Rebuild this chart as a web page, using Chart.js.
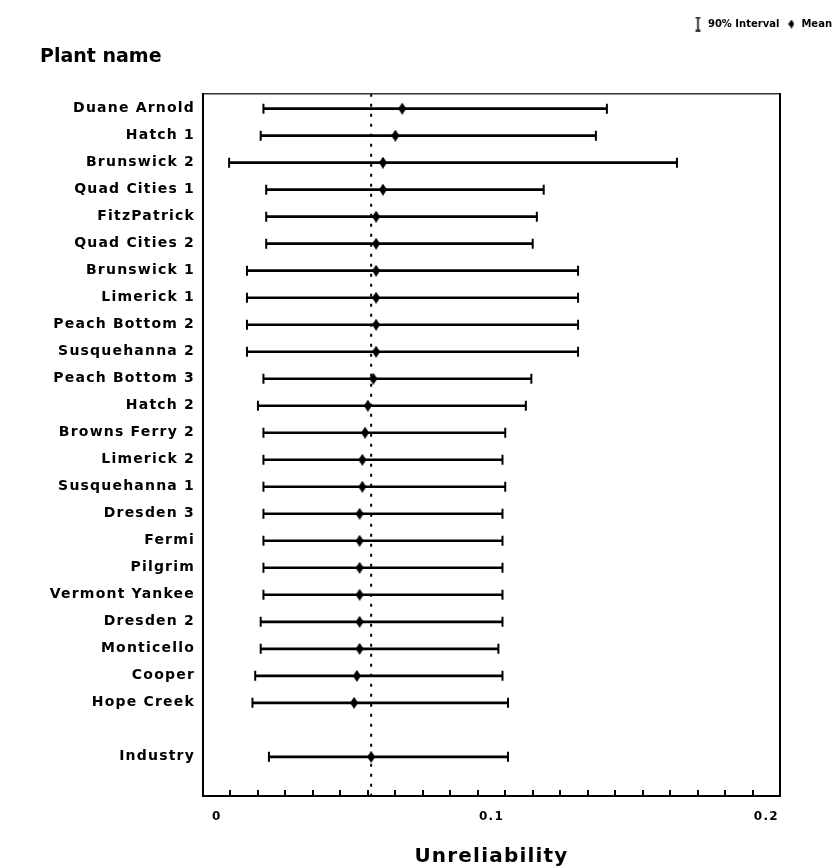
<!DOCTYPE html>
<html>
<head>
<meta charset="utf-8">
<script src="https://cdn.jsdelivr.net/npm/chart.js@4.4.1/dist/chart.umd.min.js"></script>
<style>
  html, body { margin: 0; padding: 0; background: #fff; }
  #divGrafico { width: 839px; height: 868px; }
</style>
</head>
<body>
<div id="divGrafico"><canvas id="grafico"></canvas></div>
<script>
// plants, top to bottom
const plants = ['Duane Arnold', 'Hatch 1', 'Brunswick 2', 'Quad Cities 1', 'FitzPatrick', 'Quad Cities 2',
  'Brunswick 1', 'Limerick 1', 'Peach Bottom 2', 'Susquehanna 2', 'Peach Bottom 3', 'Hatch 2',
  'Browns Ferry 2', 'Limerick 2', 'Susquehanna 1', 'Dresden 3', 'Fermi', 'Pilgrim', 'Vermont Yankee',
  'Dresden 2', 'Monticello', 'Cooper', 'Hope Creek'];
const lower = [0.017, 0.016, 0.0045, 0.018, 0.018, 0.018, 0.011, 0.011, 0.011, 0.011, 0.017, 0.015,
  0.017, 0.017, 0.017, 0.017, 0.017, 0.017, 0.017, 0.016, 0.016, 0.014, 0.013];
const means = [0.0675, 0.065, 0.0605, 0.0605, 0.058, 0.058, 0.058, 0.058, 0.058, 0.058, 0.057, 0.055,
  0.054, 0.053, 0.053, 0.052, 0.052, 0.052, 0.052, 0.052, 0.052, 0.051, 0.050];
const upper = [0.142, 0.138, 0.1675, 0.119, 0.1165, 0.115, 0.1315, 0.1315, 0.1315, 0.1315, 0.1145, 0.1125,
  0.105, 0.104, 0.105, 0.104, 0.104, 0.104, 0.104, 0.104, 0.1025, 0.104, 0.106];

const industryName = 'Industry';
const industryLower = 0.019;
const industryMean = 0.0562;
const industryUpper = 0.106;

const xTickLabels = ['0', '0.1', '0.2'];

// one empty row between plants and industry
const rowNames = plants.concat([industryName]);
const rowPos = plants.map((p, i) => i).concat([plants.length + 1]);
const allLower = lower.concat([industryLower]);
const allMeans = means.concat([industryMean]);
const allUpper = upper.concat([industryUpper]);

const yMin = -0.55;
const yMax = rowPos[rowPos.length - 1] + 1.45;

function diamond(w, h) {
  const c = document.createElement('canvas');
  c.width = w; c.height = h;
  const g = c.getContext('2d');
  g.fillStyle = '#000';
  g.beginPath();
  g.moveTo(w / 2, 0); g.lineTo(w, h / 2); g.lineTo(w / 2, h); g.lineTo(0, h / 2);
  g.closePath();
  g.fill();
  return c;
}

function iBeam(w, h) {
  const c = document.createElement('canvas');
  c.width = w; c.height = h;
  const g = c.getContext('2d');
  g.strokeStyle = '#000';
  g.lineWidth = 1.5;
  g.beginPath();
  g.moveTo(w / 2, 1); g.lineTo(w / 2, h - 1);
  g.moveTo(1, 1); g.lineTo(w - 1, 1);
  g.moveTo(1, h - 1); g.lineTo(w - 1, h - 1);
  g.stroke();
  return c;
}

const meanMark = diamond(8, 12);

// wide lettering for the axes, plain for legend and title
const spacingPlugin = {
  id: 'spacing',
  beforeLayout(chart) { chart.ctx.letterSpacing = '0px'; },
  beforeDraw(chart) { chart.ctx.letterSpacing = '0px'; },
  afterDatasetsDraw(chart) { chart.ctx.letterSpacing = '1.2px'; }
};

const fontFam = "'DejaVu Sans', sans-serif";

const data = {
  datasets: [
    {
      type: 'bar',
      label: '90% Interval',
      indexAxis: 'y',
      data: rowPos.map((r, i) => ({ y: r, x: [allLower[i], allUpper[i]] })),
      backgroundColor: '#000',
      barThickness: 2,
      borderWidth: 0
    },
    {
      type: 'scatter',
      label: 'caps',
      data: rowPos.map((r, i) => ({ x: allLower[i], y: r })).concat(rowPos.map((r, i) => ({ x: allUpper[i], y: r }))),
      pointStyle: 'line',
      rotation: 90,
      radius: 5,
      borderWidth: 2,
      borderColor: '#000'
    },
    {
      type: 'scatter',
      label: 'Mean',
      data: rowPos.map((r, i) => ({ x: allMeans[i], y: r })),
      pointStyle: meanMark,
      radius: 6
    },
    {
      type: 'line',
      label: 'ref',
      data: [{ x: industryMean, y: yMin }, { x: industryMean, y: yMax }],
      borderColor: '#000',
      borderWidth: 2,
      borderDash: [3, 7],
      pointRadius: 0
    }
  ]
};

const config = {
  type: 'bar',
  data,
  plugins: [spacingPlugin],
  options: {
    responsive: true,
    maintainAspectRatio: false,
    animation: false,
    layout: { padding: { left: 40, right: 0, top: 12, bottom: 0 } },
    plugins: {
      tooltip: { enabled: false },
      legend: {
        position: 'top',
        align: 'end',
        weight: 3000,
        labels: {
          usePointStyle: true,
          padding: 7,
          color: '#000',
          font: { family: fontFam, size: 10, weight: 'bold' },
          generateLabels: () => [
            { text: '90% Interval', pointStyle: iBeam(7, 15), fillStyle: '#000', strokeStyle: '#000', lineWidth: 0, hidden: false, fontColor: '#000' },
            { text: 'Mean', pointStyle: diamond(6, 9), fillStyle: '#000', strokeStyle: '#000', lineWidth: 0, hidden: false, fontColor: '#000' }
          ]
        }
      },
      title: {
        display: true,
        text: 'Plant name',
        align: 'start',
        color: '#000',
        font: { family: fontFam, size: 19, weight: 'bold', lineHeight: 1.2 },
        padding: { top: 7, bottom: 25 }
      }
    },
    scales: {
      x: {
        type: 'linear',
        position: 'bottom',
        min: 0,
        max: 0.2,
        afterFit: (axis) => { axis.height = 72; },
        ticks: {
          stepSize: 0.01,
          autoSkip: false,
          maxRotation: 0,
          padding: 20,
          color: '#000',
          z: 1,
          font: { family: fontFam, size: 12, weight: 'bold' },
          callback: (v) => {
            const n = Math.round(v * 100);
            return n % 10 === 0 ? xTickLabels[n / 10] : '';
          }
        },
        grid: { drawOnChartArea: false, drawTicks: true, tickLength: -6, color: '#000', lineWidth: 2, z: 1 },
        border: { display: true, color: '#000', width: 2, z: 1 },
        title: {
          display: true,
          text: 'Unreliability',
          color: '#000',
          font: { family: fontFam, size: 20, weight: 'bold', lineHeight: 1 },
          padding: { top: 0, bottom: 1 }
        }
      },
      x2: {
        type: 'linear',
        position: 'top',
        afterFit: (axis) => { axis.height = 0; },
        ticks: { display: false },
        grid: { display: false },
        border: { display: true, color: '#333', width: 1.5, z: 1 }
      },
      y: {
        type: 'linear',
        reverse: true,
        offset: false,
        min: yMin,
        max: yMax,
        afterBuildTicks: (axis) => { axis.ticks = rowPos.map(v => ({ value: v })); },
        afterFit: (axis) => { axis.width = 163; },
        ticks: {
          autoSkip: false,
          padding: 8,
          color: '#000',
          z: 1,
          font: { family: fontFam, size: 14, weight: 'bold' },
          callback: (v, i) => rowNames[i]
        },
        grid: { display: false, drawTicks: false, offset: false },
        border: { display: true, color: '#000', width: 2, z: 1 }
      },
      y2: {
        type: 'linear',
        position: 'right',
        afterFit: (axis) => { axis.width = 59; },
        ticks: { display: false },
        grid: { display: false },
        border: { display: true, color: '#000', width: 2, z: 1 }
      }
    }
  }
};

new Chart(document.getElementById('grafico'), config);
</script>
</body>
</html>
